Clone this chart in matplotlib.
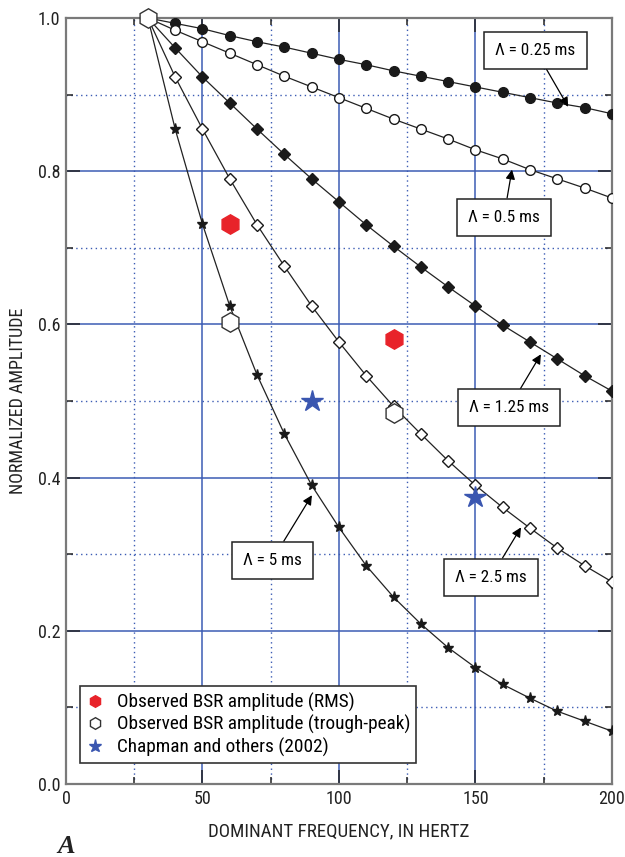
import matplotlib
matplotlib.use("Agg")
import matplotlib.pyplot as plt
from matplotlib.ticker import MultipleLocator, FormatStrFormatter

plt.rcParams['font.family'] = ['Roboto Condensed', 'DejaVu Sans']

freq = [30, 40, 50, 60, 70, 80, 90, 100, 110, 120, 130, 140, 150, 160, 170, 180, 190, 200]
amp_025 = [1.0, 0.993, 0.986, 0.977, 0.969, 0.962, 0.954, 0.946, 0.939, 0.931, 0.924, 0.917, 0.910, 0.903, 0.896, 0.889, 0.883, 0.875]
amp_05 = [1.0, 0.984, 0.969, 0.954, 0.939, 0.924, 0.910, 0.896, 0.882, 0.868, 0.855, 0.842, 0.828, 0.816, 0.802, 0.790, 0.778, 0.765]
amp_125 = [1.0, 0.961, 0.923, 0.889, 0.855, 0.822, 0.790, 0.760, 0.730, 0.702, 0.675, 0.649, 0.624, 0.599, 0.577, 0.555, 0.533, 0.513]
amp_25 = [1.0, 0.923, 0.855, 0.790, 0.730, 0.676, 0.624, 0.577, 0.533, 0.493, 0.457, 0.422, 0.390, 0.361, 0.334, 0.308, 0.285, 0.264]
amp_5 = [1.0, 0.855, 0.731, 0.624, 0.534, 0.457, 0.390, 0.335, 0.285, 0.244, 0.209, 0.178, 0.152, 0.130, 0.112, 0.095, 0.082, 0.069]

rms_f = [60, 120]
rms_a = [0.731, 0.581]
tp_f = [30, 60, 120]
tp_a = [1.0, 0.603, 0.484]
chap_f = [90, 150]
chap_a = [0.500, 0.375]

labels = ['Λ = 0.25 ms', 'Λ = 0.5 ms', 'Λ = 1.25 ms', 'Λ = 2.5 ms', 'Λ = 5 ms']

fig = plt.figure(figsize=(6.25, 8.57), dpi=100)
ax = fig.add_axes([0.1056, 0.0852, 0.8734, 0.8938])
ax.set_xlim(0, 200)
ax.set_ylim(0, 1.0)

blue = '#3c5cb4'
for x in [50, 100, 150]:
    ax.axvline(x, color=blue, lw=1.1, zorder=1)
for x in [25, 75, 125, 175]:
    ax.axvline(x, color=blue, lw=1.0, ls=(0, (1, 2.5)), zorder=1)
for y in [0.2, 0.4, 0.6, 0.8]:
    ax.axhline(y, color=blue, lw=1.1, zorder=1)
for y in [0.1, 0.3, 0.5, 0.7, 0.9]:
    ax.axhline(y, color=blue, lw=1.0, ls=(0, (1, 2.5)), zorder=1)

lk = dict(color='#222222', lw=0.9, zorder=3)
ax.plot(freq, amp_025, marker='o', ms=7, mfc='#1a1a1a', mec='#1a1a1a', **lk)
ax.plot(freq, amp_05, marker='o', ms=7, mfc='white', mec='#1a1a1a', mew=1.0, **lk)
ax.plot(freq, amp_125, marker='D', ms=6.5, mfc='#1a1a1a', mec='#1a1a1a', **lk)
ax.plot(freq, amp_25, marker='D', ms=6.5, mfc='white', mec='#1a1a1a', mew=1.0, **lk)
ax.plot(freq, amp_5, marker='*', ms=8, mfc='#1a1a1a', mec='#1a1a1a', **lk)

ax.plot(rms_f, rms_a, ls='none', marker='h', ms=14, mfc='#e8232a', mec='#e8232a', zorder=5,
        label='Observed BSR amplitude (RMS)')
ax.plot(tp_f, tp_a, ls='none', marker='h', ms=14, mfc='white', mec='#333333', mew=1.0, zorder=6,
        clip_on=False, label='Observed BSR amplitude (trough-peak)')
ax.plot(chap_f, chap_a, ls='none', marker='*', ms=16, mfc='#3a56b0', mec='#3a56b0', zorder=5,
        label='Chapman and others (2002)')

box = dict(boxstyle='square,pad=0.65', fc='white', ec='#222222', lw=1.1)
arr = dict(arrowstyle='-|>', color='black', lw=0.9, mutation_scale=14, shrinkA=0, shrinkB=0)
ann = [
    (labels[0], (184, 0.884), (172, 0.958)),
    (labels[1], (163.4, 0.802), (160.4, 0.740)),
    (labels[2], (174, 0.561), (162.3, 0.491)),
    (labels[3], (166.7, 0.335), (155.7, 0.270)),
    (labels[4], (90.1, 0.377), (75.5, 0.292)),
]
for txt, tip, c in ann:
    ax.annotate(txt, xy=tip, xytext=c, ha='center', va='center', fontsize=12.3,
                bbox=box, arrowprops=arr, zorder=8)

leg = ax.legend(loc='lower left', bbox_to_anchor=(0.025, 0.027), fontsize=13.9, frameon=True,
                fancybox=False, edgecolor='#333333', framealpha=1, handlelength=1.0,
                handletextpad=0.6, borderpad=0.32, labelspacing=0.18, markerscale=0.6,
                borderaxespad=0)
leg.get_frame().set_linewidth(1.2)
leg.set_zorder(9)

ax.xaxis.set_major_locator(MultipleLocator(50))
ax.xaxis.set_minor_locator(MultipleLocator(25))
ax.yaxis.set_major_locator(MultipleLocator(0.2))
ax.yaxis.set_minor_locator(MultipleLocator(0.1))
ax.yaxis.set_major_formatter(FormatStrFormatter('%.1f'))
ax.tick_params(which='both', direction='in', top=True, right=True, color='#222222', width=1.1,
               labelsize=13, pad=4, labelcolor='#222222')
ax.tick_params(which='major', length=10)
ax.tick_params(which='minor', length=5)
for s in ax.spines.values():
    s.set_color('#7a7a7a')
    s.set_linewidth(1.6)

ax.set_xlabel('DOMINANT FREQUENCY, IN HERTZ', fontsize=13.6, labelpad=11, color='#222222')
ax.set_ylabel('NORMALIZED AMPLITUDE', fontsize=13, labelpad=8, color='#222222')
fig.text(0.1056, 0.0047, 'A', fontsize=19, fontstyle='italic', fontweight='bold',
         family=['Liberation Serif', 'DejaVu Serif'], ha='center', va='baseline', color='#222222')

fig.savefig('out.png', dpi=100)
